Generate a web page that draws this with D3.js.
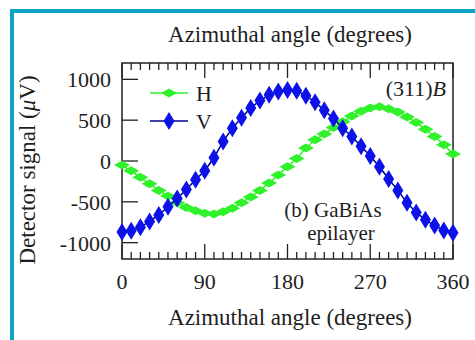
<!DOCTYPE html>
<html>
<head>
<meta charset="utf-8">
<script src="https://cdn.jsdelivr.net/npm/d3@7"></script>
<style>
  body { margin: 0; background: #fff; }
  svg text { font-family: "Liberation Serif", "Times New Roman", serif; fill: #1e1e1e; }
</style>
</head>
<body>
<script>
var width = 475
var height = 340

// azimuthal angle, degrees
var angles = d3.range(0, 361, 10)
// detector signal (uV)
var hValues = [-50, -120, -200, -280, -360, -430, -510, -570, -610, -640,
    -650, -620, -580, -510, -440, -360, -270, -170, -70, 30,
    160, 260, 330, 410, 480, 550, 610, 650, 665, 640,
    600, 540, 470, 390, 300, 200, 85]
var vValues = [-870, -855, -810, -740, -660, -560, -460, -350, -230, -120,
    40, 240, 400, 530, 650, 740, 810, 850, 870, 860,
    800, 720, 620, 520, 400, 300, 180, 60, -70, -220,
    -360, -510, -630, -720, -790, -850, -880]
var yTicks = [-1000, -500, 0, 500, 1000]
var xTicks = [0, 90, 180, 270, 360]

var svg = d3.select("body").append("svg")
    .attr("width", width)
    .attr("height", height)

// frame border of the figure panel
svg.append("rect").attr("x", 10).attr("y", 9).attr("width", 470).attr("height", 4).attr("fill", "#0ba4c9")
svg.append("rect").attr("x", 10).attr("y", 9).attr("width", 4).attr("height", 340).attr("fill", "#0ba4c9")

var x = d3.scaleLinear().domain([0, 360]).range([122, 453])
var y = d3.scaleLinear().domain([-1200, 1200]).range([259, 63])

var g = svg.append("g")

// minor + major ticks on bottom and top
var minor = d3.range(0, 361, 10)
minor.forEach(function(d) {
    var len = d % 90 === 0 ? 15 : 7
    g.append("line").attr("x1", x(d)).attr("x2", x(d)).attr("y1", y(-1200)).attr("y2", y(-1200) - len)
        .attr("stroke", "#222").attr("stroke-width", 1.3)
    g.append("line").attr("x1", x(d)).attr("x2", x(d)).attr("y1", y(1200)).attr("y2", y(1200) + len)
        .attr("stroke", "#222").attr("stroke-width", 1.3)
})
yTicks.forEach(function(d) {
    g.append("line").attr("x1", x(0)).attr("x2", x(0) + 16).attr("y1", y(d)).attr("y2", y(d))
        .attr("stroke", "#222").attr("stroke-width", 1.3)
})

g.append("rect").attr("x", x(0)).attr("y", y(1200))
    .attr("width", x(360) - x(0)).attr("height", y(-1200) - y(1200))
    .attr("fill", "none").attr("stroke", "#222").attr("stroke-width", 1.5)

// tick labels
svg.selectAll(".ylab").data(yTicks).enter().append("text")
    .attr("x", 111).attr("y", function(d) { return y(d) + 8 })
    .attr("text-anchor", "end").style("font-size", "22px")
    .text(function(d) { return d })
svg.selectAll(".xlab").data(xTicks).enter().append("text")
    .attr("x", function(d) { return x(d) }).attr("y", 289)
    .attr("text-anchor", "middle").style("font-size", "22px")
    .text(function(d) { return d })

// axis titles
svg.append("text").attr("x", 290).attr("y", 42).attr("text-anchor", "middle")
    .style("font-size", "23px").text("Azimuthal angle (degrees)")
svg.append("text").attr("x", 290).attr("y", 325).attr("text-anchor", "middle")
    .style("font-size", "23px").text("Azimuthal angle (degrees)")
var yt = svg.append("text").attr("transform", "translate(35,170) rotate(-90)")
    .attr("text-anchor", "middle").style("font-size", "23px")
yt.append("tspan").text("Detector signal (")
yt.append("tspan").style("font-style", "italic").text("\u03bc")
yt.append("tspan").text("V)")

var hData = angles.map(function(a, i) { return [a, hValues[i]] })
var vData = angles.map(function(a, i) { return [a, vValues[i]] })
var line = d3.line().x(function(d) { return x(d[0]) }).y(function(d) { return y(d[1]) })

var green = "#2ff22a"
var blue = "#0c12e8"

function diamond(w, h) {
    return "M0," + (-h / 2) + "L" + (w / 2) + ",0L0," + (h / 2) + "L" + (-w / 2) + ",0Z"
}

svg.append("path").datum(hData).attr("d", line).attr("fill", "none").attr("stroke", green).attr("stroke-width", 1.5)
svg.selectAll(".hpt").data(hData).enter().append("path")
    .attr("d", diamond(16, 9)).attr("fill", green)
    .attr("transform", function(d) { return "translate(" + x(d[0]) + "," + y(d[1]) + ")" })

svg.append("path").datum(vData).attr("d", line).attr("fill", "none").attr("stroke", "#000090").attr("stroke-width", 1.5)
svg.selectAll(".vpt").data(vData).enter().append("path")
    .attr("d", diamond(11, 18)).attr("fill", blue)
    .attr("transform", function(d) { return "translate(" + x(d[0]) + "," + y(d[1]) + ")" })

// legend
var leg = [{ name: "H", c: green, lc: green, w: 16, h: 9, y: 93 },
    { name: "V", c: blue, lc: "#000090", w: 11, h: 18, y: 121 }]
leg.forEach(function(l) {
    svg.append("line").attr("x1", 150).attr("x2", 188).attr("y1", l.y).attr("y2", l.y)
        .attr("stroke", l.lc).attr("stroke-width", 1.5)
    svg.append("path").attr("d", diamond(l.w, l.h)).attr("fill", l.c)
        .attr("transform", "translate(169," + l.y + ")")
    svg.append("text").attr("x", 196).attr("y", l.y + 8).style("font-size", "22px").text(l.name)
})

// annotations
var ann = svg.append("text").attr("x", 446).attr("y", 96).attr("text-anchor", "end").style("font-size", "22px")
ann.append("tspan").text("(311)")
ann.append("tspan").style("font-style", "italic").text("B")
svg.append("text").attr("x", 333).attr("y", 217).attr("text-anchor", "middle").style("font-size", "21px").text("(b) GaBiAs")
svg.append("text").attr("x", 341).attr("y", 240).attr("text-anchor", "middle").style("font-size", "21px").text("epilayer")
</script>
</body>
</html>
